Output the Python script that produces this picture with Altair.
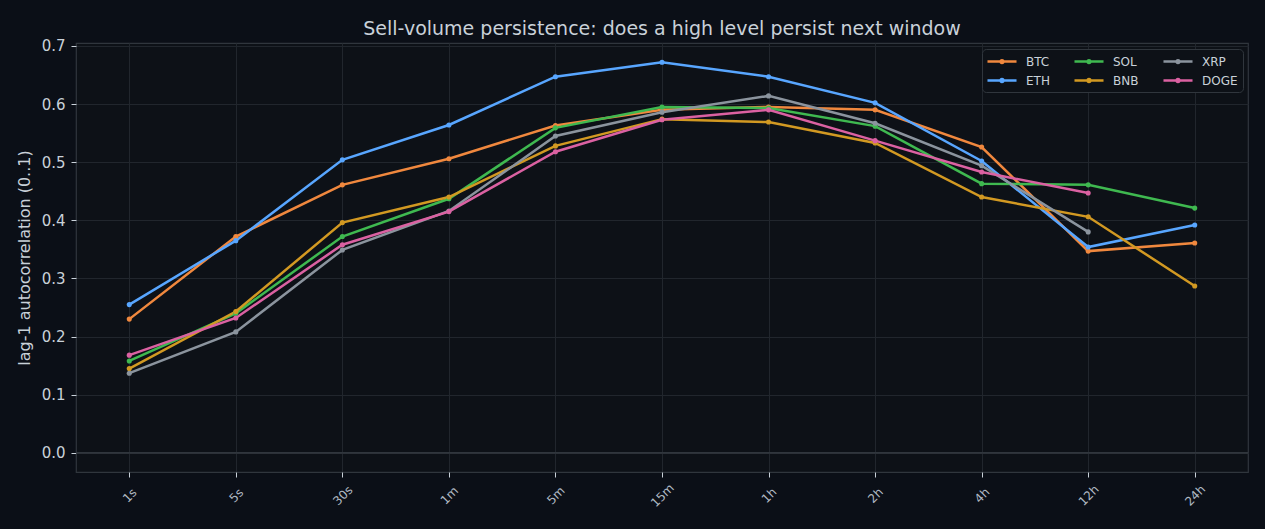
import altair as alt
import pandas as pd

# Aggregation windows (x axis) and lag-1 autocorrelation per asset
windows = ["1s", "5s", "30s", "1m", "5m", "15m", "1h", "2h", "4h", "12h", "24h"]
btc = [0.230, 0.372, 0.461, 0.506, 0.563, 0.590, 0.595, 0.590, 0.526, 0.347, 0.361]
eth = [0.255, 0.365, 0.504, 0.564, 0.647, 0.672, 0.647, 0.602, 0.502, 0.354, 0.392]
sol = [0.158, 0.240, 0.372, 0.437, 0.559, 0.595, 0.593, 0.562, 0.463, 0.461, 0.421]
bnb = [0.145, 0.243, 0.396, 0.440, 0.528, 0.574, 0.569, 0.533, 0.440, 0.406, 0.287]
xrp = [0.137, 0.208, 0.349, 0.416, 0.545, 0.586, 0.614, 0.567, 0.494, 0.380, None]
doge = [0.168, 0.232, 0.358, 0.415, 0.518, 0.573, 0.590, 0.537, 0.483, 0.447, None]

assets = ["BTC", "ETH", "SOL", "BNB", "XRP", "DOGE"]
series = [btc, eth, sol, bnb, xrp, doge]
palette = ["#f0883e", "#58a6ff", "#3fb950", "#d29922", "#8b949e", "#db61a2"]

rows = []
for k, (a, vals) in enumerate(zip(assets, series)):
    for w, v in zip(windows, vals):
        if v is not None:
            rows.append({"window": w, "asset": a, "ac": v, "order": k})
df = pd.DataFrame(rows)

BG = "#0b0f17"
PANEL = "#0d1117"
GRID = "#21262d"
EDGE = "#30363d"
TEXT = "#c9d1d9"

x_enc = alt.X("window:O", sort=windows, title=None,
              scale=alt.Scale(type="point", padding=0.5),
              axis=alt.Axis(labelAngle=-45, labelAlign="center", labelBaseline="middle",
                            labelPadding=18, labelFontSize=12, labelColor="#b1bac4",
                            tickColor=TEXT, tickSize=5, grid=True, gridColor=GRID,
                            domain=False))
y_enc = alt.Y("ac:Q", title="lag-1 autocorrelation (0..1)",
              scale=alt.Scale(domain=[-0.033, 0.705], nice=False, zero=False),
              axis=alt.Axis(values=[0, 0.1, 0.2, 0.3, 0.4, 0.5, 0.6, 0.7], format=".1f",
                            labelFontSize=15, labelColor=TEXT, tickColor=TEXT, tickSize=5,
                            labelPadding=6, grid=True, gridColor=GRID, domain=False,
                            titleFontSize=16, titleColor=TEXT, titleFontWeight="normal",
                            titlePadding=9))

# line-with-dot legend glyph: a 12px symbol box, the stroke reaching out to the right
legend = alt.Legend(
    title=None, orient="none", legendX=906, legendY=6, columns=3,
    symbolType="M-1.17,0H3.67M1.02,0a0.23,0.23 0 1,0 0.46,0a0.23,0.23 0 1,0 -0.46,0",
    symbolSize=144, symbolStrokeWidth=2.5, labelFontSize=12, labelColor=TEXT,
    columnPadding=19, rowPadding=5, labelOffset=24,
    fillColor=PANEL, strokeColor=EDGE, padding=5, cornerRadius=4,
)

lines = alt.Chart(df).mark_line(strokeWidth=2.5).encode(
    x=x_enc, y=y_enc,
    color=alt.Color("asset:N",
                    scale=alt.Scale(domain=assets, range=palette),
                    legend=legend),
    order=alt.Order("order:Q"),
)

points = alt.Chart(df).mark_circle(size=26, opacity=1).encode(
    x=x_enc, y=y_enc,
    color=alt.Color("asset:N", legend=None),
)

zero = alt.Chart(pd.DataFrame({"y": [0.0]})).mark_rule(color=EDGE, strokeWidth=1.8).encode(
    y=alt.Y("y:Q")
)

chart = alt.layer(zero, lines, points).properties(
    width=1172, height=429,
    title=alt.TitleParams("Sell-volume persistence: does a high level persist next window",
                          fontSize=19, color=TEXT, fontWeight="normal", offset=0),
    background=BG,
    padding={"left": 76, "top": 43, "right": 17, "bottom": 57},
    autosize=alt.AutoSizeParams(type="none"),
).configure(
    font="DejaVu Sans",
).configure_view(
    fill=PANEL, stroke=EDGE, strokeWidth=1.2,
)

chart.save("out.html", embed_options={"renderer": "svg", "actions": False})
